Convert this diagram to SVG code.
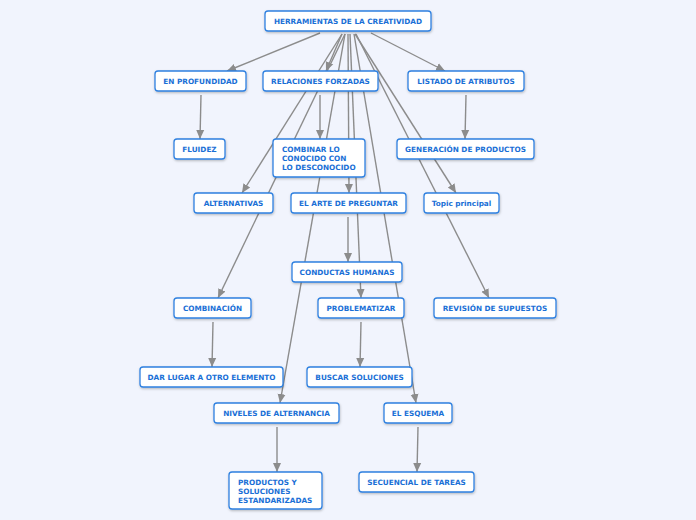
<svg xmlns="http://www.w3.org/2000/svg" width="696" height="520" viewBox="0 0 696 520">
<defs>
<marker id="arr" markerUnits="userSpaceOnUse" markerWidth="10" markerHeight="10" viewBox="0 0 10 10" refX="9" refY="5" orient="auto">
<path d="M0,1 L9,5 L0,9 Z" fill="#8c8c8c"/>
</marker>
<filter id="sh" x="-10%" y="-20%" width="130%" height="160%">
<feDropShadow dx="0.5" dy="1.2" stdDeviation="0.8" flood-color="#000" flood-opacity="0.25"/>
</filter>
</defs>
<style>
.n rect{fill:#fff;stroke:#2f80e0;stroke-width:1.3;filter:url(#sh)}
.n text{font-family:"DejaVu Sans",Verdana,sans-serif;font-weight:bold;font-size:7.3px;fill:#1a6fd6}
.c{text-anchor:middle}
#edges line{stroke:#8c8c8c;stroke-width:1.4;marker-end:url(#arr)}
</style>
<rect width="696" height="520" fill="#f1f4fd"/>
<g id="edges">
<line x1="320" y1="33" x2="227" y2="71"/>
<line x1="371" y1="33" x2="445" y2="71"/>
<line x1="342" y1="34" x2="326" y2="71"/>
<line x1="342" y1="34" x2="242" y2="193"/>
<line x1="345" y1="34" x2="218" y2="298"/>
<line x1="345" y1="34" x2="280" y2="403"/>
<line x1="348" y1="34" x2="349" y2="193"/>
<line x1="350" y1="34" x2="361" y2="298"/>
<line x1="354" y1="34" x2="416" y2="403"/>
<line x1="355" y1="34" x2="456" y2="193"/>
<line x1="356" y1="34" x2="489" y2="298"/>
<line x1="201" y1="95" x2="200" y2="139"/>
<line x1="320" y1="95" x2="320" y2="139"/>
<line x1="466" y1="95" x2="465" y2="139"/>
<line x1="348" y1="217" x2="348" y2="262"/>
<line x1="213" y1="322" x2="212" y2="367"/>
<line x1="361" y1="322" x2="360" y2="367"/>
<line x1="277" y1="427" x2="277" y2="472"/>
<line x1="418" y1="427" x2="417" y2="472"/>
</g>
<g id="root" class="n"><rect x="265" y="11" width="166" height="20" rx="3"/><text class="c" x="348" y="24">HERRAMIENTAS DE LA CREATIVIDAD</text></g>
<g id="en-profundidad" class="n"><rect x="155" y="71" width="91" height="20" rx="3"/><text class="c" x="200.5" y="84">EN PROFUNDIDAD</text></g>
<g id="relaciones-forzadas" class="n"><rect x="263" y="71" width="115" height="20" rx="3"/><text class="c" x="320.5" y="84">RELACIONES FORZADAS</text></g>
<g id="listado-de-atributos" class="n"><rect x="408" y="71" width="116" height="20" rx="3"/><text class="c" x="466" y="84">LISTADO DE ATRIBUTOS</text></g>
<g id="fluidez" class="n"><rect x="174" y="139" width="51" height="20" rx="3"/><text class="c" x="199.5" y="152">FLUIDEZ</text></g>
<g id="combinar" class="n"><rect x="273" y="139" width="92" height="38" rx="3"/><text x="282" y="152">COMBINAR LO</text><text x="282" y="161">CONOCIDO CON</text><text x="282" y="170">LO DESCONOCIDO</text></g>
<g id="generacion" class="n"><rect x="397" y="139" width="137" height="20" rx="3"/><text class="c" x="465.5" y="152">GENERACIÓN DE PRODUCTOS</text></g>
<g id="alternativas" class="n"><rect x="194" y="193" width="79" height="20" rx="3"/><text class="c" x="233.5" y="206">ALTERNATIVAS</text></g>
<g id="el-arte" class="n"><rect x="291" y="193" width="115" height="20" rx="3"/><text class="c" x="348.5" y="206">EL ARTE DE PREGUNTAR</text></g>
<g id="topic" class="n"><rect x="424" y="193" width="75" height="20" rx="3"/><text class="c" x="461.5" y="206">Topic principal</text></g>
<g id="conductas" class="n"><rect x="292" y="262" width="110" height="20" rx="3"/><text class="c" x="347" y="275">CONDUCTAS HUMANAS</text></g>
<g id="combinacion" class="n"><rect x="174" y="298" width="77" height="20" rx="3"/><text class="c" x="212.5" y="311">COMBINACIÓN</text></g>
<g id="problematizar" class="n"><rect x="318" y="298" width="86" height="20" rx="3"/><text class="c" x="361" y="311">PROBLEMATIZAR</text></g>
<g id="revision" class="n"><rect x="434" y="298" width="122" height="20" rx="3"/><text class="c" x="495" y="311">REVISIÓN DE SUPUESTOS</text></g>
<g id="dar-lugar" class="n"><rect x="140" y="367" width="143" height="20" rx="3"/><text class="c" x="211.5" y="380">DAR LUGAR A OTRO ELEMENTO</text></g>
<g id="buscar" class="n"><rect x="307" y="367" width="105" height="20" rx="3"/><text class="c" x="359.5" y="380">BUSCAR SOLUCIONES</text></g>
<g id="niveles" class="n"><rect x="214" y="403" width="125" height="20" rx="3"/><text class="c" x="276.5" y="416">NIVELES DE ALTERNANCIA</text></g>
<g id="esquema" class="n"><rect x="384" y="403" width="68" height="20" rx="3"/><text class="c" x="418" y="416">EL ESQUEMA</text></g>
<g id="productos" class="n"><rect x="229" y="472" width="93" height="37" rx="3"/><text x="238" y="485">PRODUCTOS Y</text><text x="238" y="494">SOLUCIONES</text><text x="238" y="503">ESTANDARIZADAS</text></g>
<g id="secuencial" class="n"><rect x="359" y="472" width="115" height="20" rx="3"/><text class="c" x="416.5" y="485">SECUENCIAL DE TAREAS</text></g>
</svg>
